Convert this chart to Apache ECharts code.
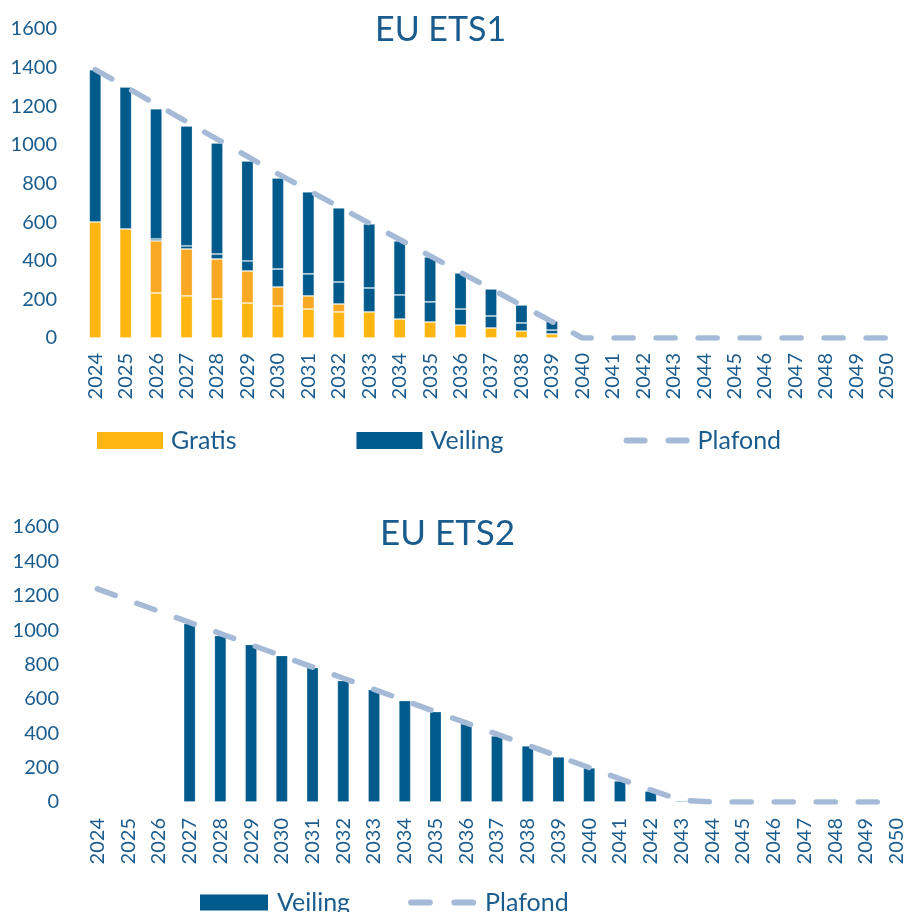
<!DOCTYPE html>
<html>
<head>
<meta charset="utf-8">
<script src="https://cdn.jsdelivr.net/npm/echarts@6/dist/echarts.min.js"></script>
<style>
  html, body { margin: 0; padding: 0; background: #fff; }
  #chart { width: 912px; height: 912px; }
</style>
</head>
<body>
<div id="chart"></div>
<script>
// jaren op de x-as (beide grafieken)
var years = ['2024','2025','2026','2027','2028','2029','2030','2031','2032','2033','2034','2035','2036','2037','2038','2039','2040','2041','2042','2043','2044','2045','2046','2047','2048','2049','2050'];

// EU ETS1 - gratis toewijzing (twee tinten) en veiling (twee delen)
var ets1GratisA = [601,565,233,218,202,181,166,150,135,135,98,83,67,52,36,21,0,0,0,0,0,0,0,0,0,0,0];
var ets1GratisB = [0,0,270,243,207,166,98,68,41,0,0,0,0,0,0,0,0,0,0,0,0,0,0,0,0,0,0];
var ets1VeilingA = [0,0,10,16,26,52,93,114,114,124,125,104,83,62,42,20,0,0,0,0,0,0,0,0,0,0,0];
var ets1VeilingB = [788,735,674,621,575,518,472,425,384,332,280,233,187,140,93,47,0,0,0,0,0,0,0,0,0,0,0];
var ets1Plafond = [1390,1300,1210,1120,1030,940,850,765,680,595,510,425,340,255,170,85,0,0,0,0,0,0,0,0,0,0,0];

// EU ETS2
var ets2Veiling = [0,0,0,1039,969,917,853,783,707,654,590,526,456,385,327,263,199,123,64,8,0,0,0,0,0,0,0];
var ets2Plafond = [1240,1175,1110,1045,980,915,850,785,720,655,590,525,460,395,330,265,200,135,70,10,0,0,0,0,0,0,0];

var yTicks = [0, 200, 1600]; // min, interval, max

var txt = '#1b5c8e';
var blauw = '#005a8c';
var geel = '#ffb612';
var oranje = '#f9a823';
var lijn = '#a4bad6';
var font = 'Lato';
// legend-icoon: twee afgeronde streepjes
var streepIcon = 'path://M3,0H21A3,3 0 0 1 21,6H3A3,3 0 0 1 3,0Z M45,0H63A3,3 0 0 1 63,6H45A3,3 0 0 1 45,0Z';

function leeg(arr) { // nullen niet tekenen
  return arr.map(function (v) { return v ? v : '-'; });
}

var myChart = echarts.init(document.getElementById('chart'));

function xas(idx, margin) {
  return {
    type: 'category', gridIndex: idx, data: years,
    axisLine: { show: false }, axisTick: { show: false },
    axisLabel: { rotate: 90, margin: margin, color: txt, fontSize: 20, fontFamily: font, interval: 0 }
  };
}
function yas(idx) {
  return {
    type: 'value', gridIndex: idx, min: yTicks[0], interval: yTicks[1], max: yTicks[2],
    axisLine: { show: false }, axisTick: { show: false }, splitLine: { show: false },
    axisLabel: { margin: 23, color: txt, fontSize: 20, fontFamily: font, formatter: function (v) { return String(v); } }
  };
}
function balk(name, data, color, stack, idx) {
  return {
    name: name, type: 'bar', stack: stack, xAxisIndex: idx, yAxisIndex: idx,
    data: leeg(data), barWidth: 12,
    itemStyle: { color: color, borderColor: 'rgba(255,255,255,0.22)', borderWidth: 1 }
  };
}
function plafond(data, idx) {
  return {
    name: 'Plafond', type: 'line', xAxisIndex: idx, yAxisIndex: idx, data: data,
    symbol: 'none', z: 5,
    lineStyle: { color: lijn, width: 5.5, type: [19, 23], cap: 'round' },
    itemStyle: { color: lijn }
  };
}

var options = {
  backgroundColor: '#fff',
  title: [
    { text: 'EU ETS1', left: 370, top: 8, textStyle: { color: txt, fontSize: 34, fontWeight: 'normal', fontFamily: font } },
    { text: 'EU ETS2', left: 375, top: 511, textStyle: { color: txt, fontSize: 35, fontWeight: 'normal', fontFamily: font } }
  ],
  legend: [
    {
      data: [
        { name: 'Gratis', icon: 'rect' },
        { name: 'Veiling', icon: 'rect' },
        { name: 'Plafond', icon: streepIcon }
      ],
      left: 92, top: 423,
      itemWidth: 66, itemHeight: 17, itemGap: 120,
      itemStyle: { borderWidth: 0 },
      textStyle: { color: txt, fontSize: 25, fontFamily: font, padding: [0, 0, 0, 3] }
    },
    {
      data: [
        { name: 'Veiling', icon: 'rect' },
        { name: 'Plafond', icon: streepIcon }
      ],
      left: 195, top: 885,
      itemWidth: 68, itemHeight: 16, itemGap: 58,
      itemStyle: { borderWidth: 0 },
      textStyle: { color: txt, fontSize: 25, fontFamily: font, padding: [0, 0, 0, 4] }
    }
  ],
  grid: [
    { left: 80, width: 822, top: 29, height: 309 },
    { left: 82, width: 837, top: 527, height: 275 }
  ],
  xAxis: [xas(0, 15), xas(1, 16)],
  yAxis: [yas(0), yas(1)],
  series: [
    balk('Gratis', ets1GratisA, geel, 'ets1', 0),
    balk('Gratis (deel 2)', ets1GratisB, oranje, 'ets1', 0),
    balk('Veiling (deel 2)', ets1VeilingA, blauw, 'ets1', 0),
    balk('Veiling', ets1VeilingB, blauw, 'ets1', 0),
    plafond(ets1Plafond, 0),
    balk('Veiling', ets2Veiling, blauw, 'ets2', 1),
    plafond(ets2Plafond, 1)
  ]
};
myChart.setOption(options);
</script>
</body>
</html>
